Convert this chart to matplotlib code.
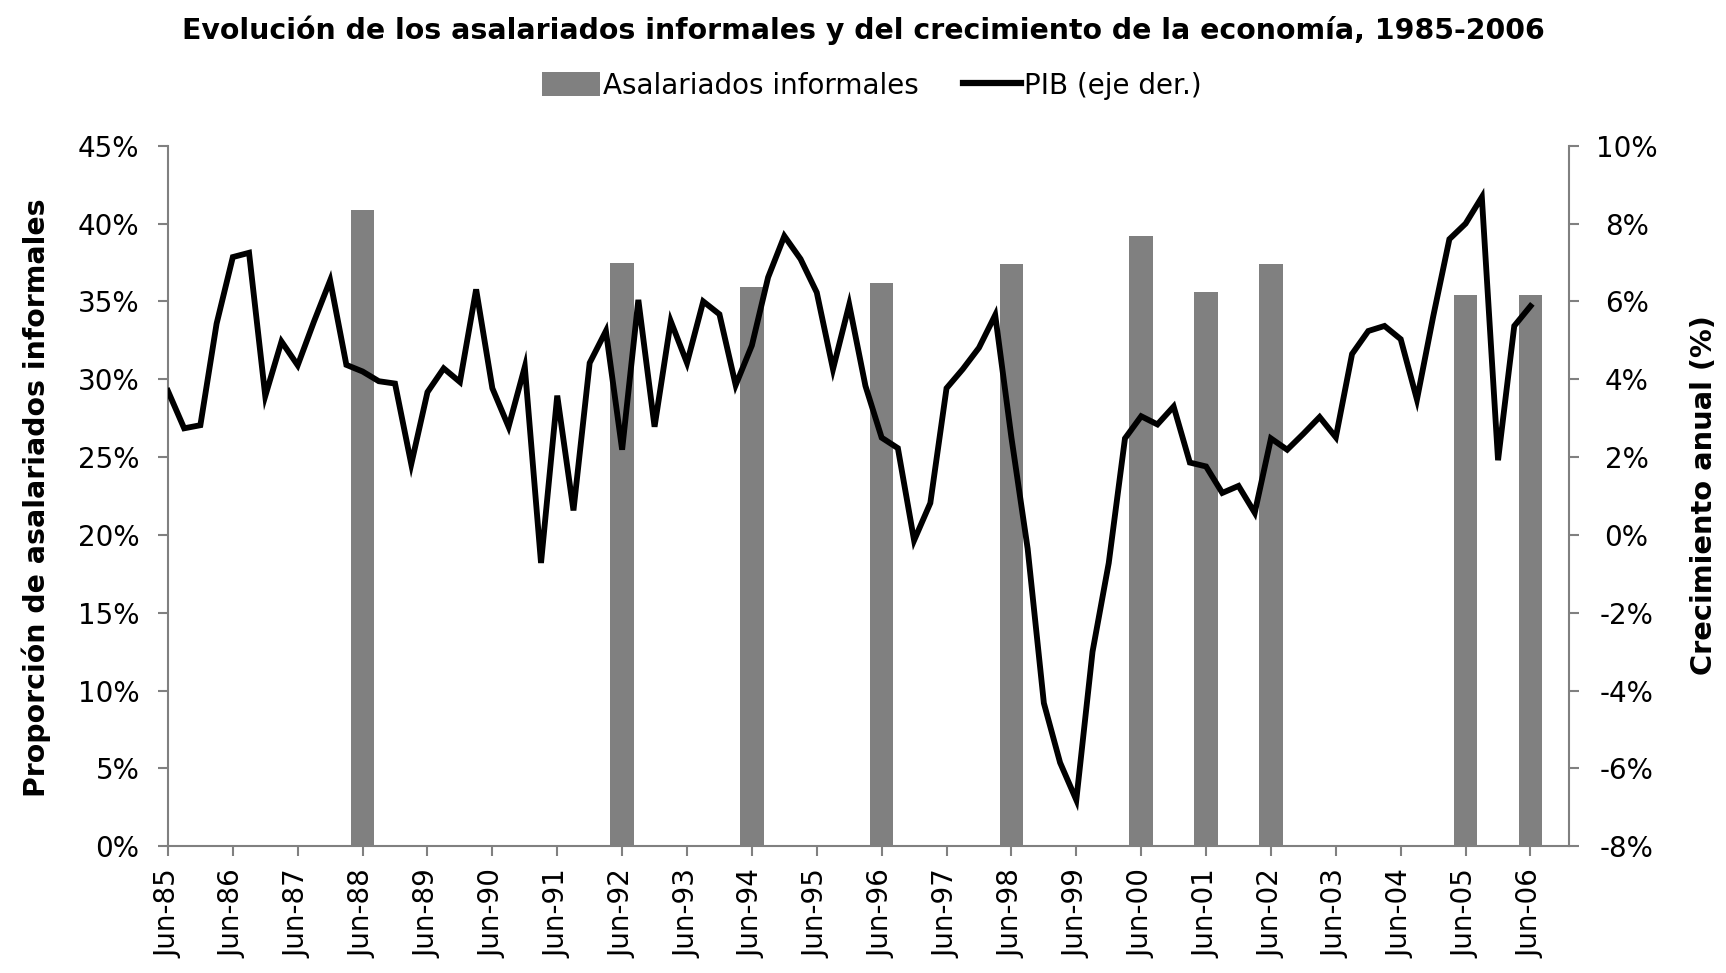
import numpy as np
import matplotlib
matplotlib.use('Agg')
import matplotlib.pyplot as plt
from matplotlib.patches import Patch
from matplotlib.lines import Line2D

# quarterly GDP growth (%), Jun-85 .. Jun-06, one value per quarter
pib = [3.70, 2.74, 2.82, 5.43, 7.14, 7.25, 3.57, 4.97, 4.36, 5.48,
       6.54, 4.37, 4.20, 3.95, 3.89, 1.82, 3.67, 4.28, 3.93, 6.31,
       3.77, 2.78, 4.32, -0.72, 3.58, 0.63, 4.42, 5.24, 2.19, 6.04,
       2.78, 5.49, 4.42, 6.00, 5.67, 3.85, 4.87, 6.62, 7.68, 7.09,
       6.23, 4.26, 5.92, 3.83, 2.50, 2.23, -0.14, 0.82, 3.77, 4.26,
       4.81, 5.65, 2.50, -0.35, -4.32, -5.85, -6.81, -3.00, -0.72, 2.48,
       3.05, 2.84, 3.30, 1.86, 1.76, 1.08, 1.26, 0.57, 2.48, 2.19,
       2.60, 3.03, 2.51, 4.65, 5.24, 5.37, 5.03, 3.48, 5.61, 7.60,
       8.00, 8.68, 1.92, 5.37, 5.88]

# informal wage earners (%), only some June observations
bar_quarter = [12, 28, 36, 44, 52, 60, 64, 68, 80, 84]
bar_vals = [40.9, 37.5, 35.9, 36.2, 37.4, 39.2, 35.6, 37.4, 35.4, 35.4]

tick_quarter = list(range(0, 85, 4))
tick_labels = ['Jun-85', 'Jun-86', 'Jun-87', 'Jun-88', 'Jun-89', 'Jun-90',
               'Jun-91', 'Jun-92', 'Jun-93', 'Jun-94', 'Jun-95', 'Jun-96',
               'Jun-97', 'Jun-98', 'Jun-99', 'Jun-00', 'Jun-01', 'Jun-02',
               'Jun-03', 'Jun-04', 'Jun-05', 'Jun-06']

left_ticks = list(range(0, 50, 5))
right_ticks = list(range(-8, 12, 2))

gray = '#808080'
q = np.arange(len(pib))

fig = plt.figure(figsize=(17.26, 9.73), dpi=100)
ax = fig.add_axes([0.0973, 0.1302, 0.8117, 0.7200])
ax2 = ax.twinx()

ax.bar(bar_quarter, bar_vals, width=1.45, color=gray, zorder=2)
ax2.plot(q, pib, color='black', lw=4.2, solid_joinstyle='miter')

ax.set_xlim(0, 86.37)
ax.set_ylim(0, 45)
ax2.set_ylim(-8, 10)

ax.set_xticks(tick_quarter)
ax.set_xticklabels(tick_labels, rotation=90, fontsize=20, va='top')
ax.set_yticks(left_ticks)
ax.set_yticklabels(['%d%%' % v for v in left_ticks], fontsize=20)
ax2.set_yticks(right_ticks)
ax2.set_yticklabels(['%d%%' % v for v in right_ticks], fontsize=20, ha='center')

for a in (ax, ax2):
    a.spines['top'].set_visible(False)
    for s in ('left', 'right', 'bottom'):
        a.spines[s].set_color(gray)
        a.spines[s].set_linewidth(1.5)
ax.spines['right'].set_visible(False)
ax2.spines['left'].set_visible(False)
ax2.spines['bottom'].set_visible(False)

ax.tick_params(axis='x', direction='out', length=7.5, width=1.5, color=gray, pad=9)
ax.tick_params(axis='y', direction='out', length=7.5, width=1.5, color=gray, pad=13)
ax2.tick_params(axis='y', direction='out', length=7.5, width=1.5, color=gray, pad=34)

fig.text(0.5, 0.969,
         'Evolución de los asalariados informales y del crecimiento de la economía, 1985-2006',
         ha='center', va='center', fontsize=20.4, fontweight='bold')
fig.text(36 / 1726, 0.488, 'Proporción de asalariados informales', rotation=90,
         ha='center', va='center', fontsize=20.4, fontweight='bold')
fig.text(1704 / 1726, 0.491, 'Crecimiento anual (%)', rotation=90,
         ha='center', va='center', fontsize=20.8, fontweight='bold')

handles = [Patch(facecolor=gray, edgecolor='none'),
           Line2D([0], [0], color='black', lw=4.5)]
fig.legend(handles, ['Asalariados informales', 'PIB (eje der.)'],
           loc='center', bbox_to_anchor=(0.505, 0.912), ncol=2, frameon=False,
           fontsize=20, handlelength=2.1, handleheight=0.95,
           handletextpad=0.1, columnspacing=1.6)

fig.savefig('out.png', dpi=100)
